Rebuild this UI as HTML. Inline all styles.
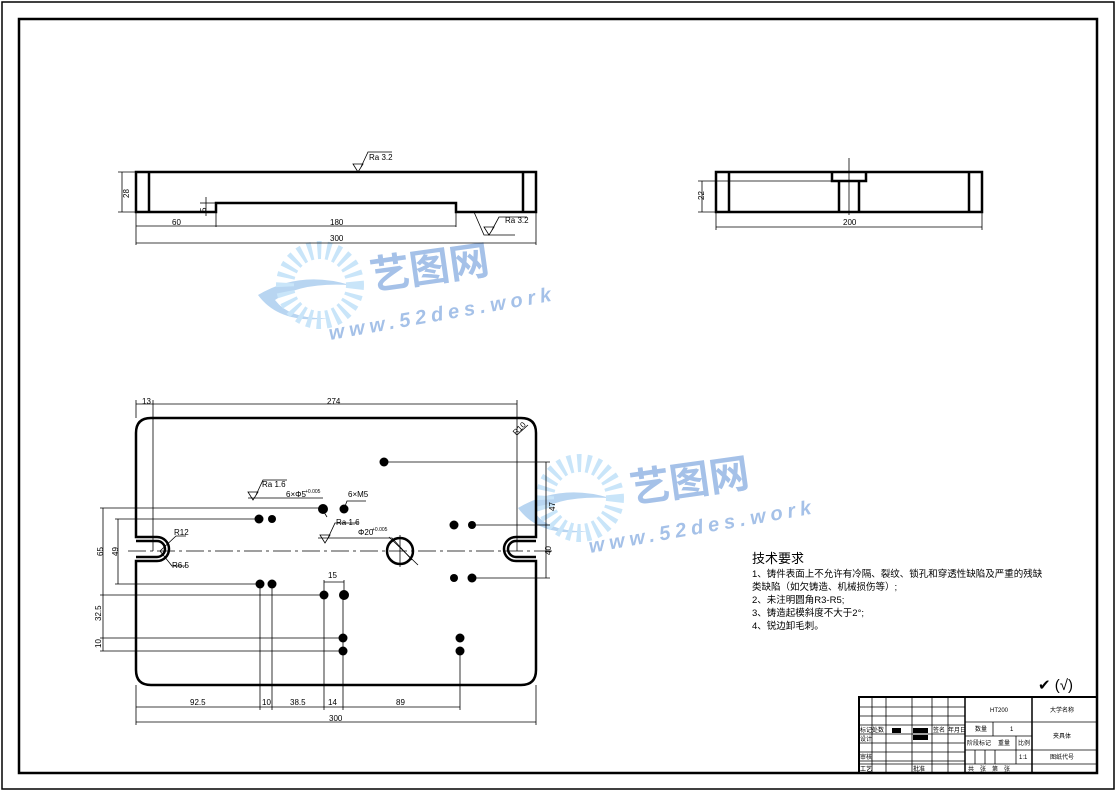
<!DOCTYPE html>
<html><head><meta charset="utf-8"><style>
html,body{margin:0;padding:0;background:#fff;}
svg{display:block;}
text{font-family:"Liberation Sans","Noto Sans CJK SC",sans-serif;fill:#000;}
</style></head><body>
<svg width="1117" height="792" viewBox="0 0 1117 792" xmlns="http://www.w3.org/2000/svg">
<rect x="2" y="2" width="1112" height="787" fill="none" stroke="#000" stroke-width="1.5"/>
<rect x="19" y="19" width="1078" height="754" fill="none" stroke="#000" stroke-width="2.5"/>

<!-- watermark -->
<g opacity="0.55">
 <path d="M258,295 Q300,270 350,285 Q300,282 275,300 Q290,320 330,318 Q280,325 258,295Z" fill="#7fb3e6"/>
 <circle cx="320" cy="285" r="35" fill="none" stroke="#9dd0f5" stroke-width="18" stroke-dasharray="4 5"/>
 <text x="372" y="290" font-size="40" font-weight="bold" fill="#5b8fd6" style="fill:#5b8fd6" transform="rotate(-8 372 290)">艺图网</text>
 <text x="330" y="340" font-size="20" font-weight="bold" font-style="italic" letter-spacing="5" style="fill:#5b8fd6" transform="rotate(-10 330 340)">www.52des.work</text>
 <path d="M518,508 Q560,483 610,498 Q560,495 535,513 Q550,533 590,531 Q540,538 518,508Z" fill="#7fb3e6"/>
 <circle cx="580" cy="498" r="35" fill="none" stroke="#9dd0f5" stroke-width="18" stroke-dasharray="4 5"/>
 <text x="632" y="503" font-size="40" font-weight="bold" style="fill:#5b8fd6" transform="rotate(-8 632 503)">艺图网</text>
 <text x="590" y="553" font-size="20" font-weight="bold" font-style="italic" letter-spacing="5" style="fill:#5b8fd6" transform="rotate(-10 590 553)">www.52des.work</text>
</g>

<!-- front view -->
<g fill="none" stroke="#000" stroke-width="2.5">
 <path d="M136,172 H536 V212 H456 V203 H216 V212 H136 Z"/>
 <line x1="149" y1="172" x2="149" y2="212"/>
 <line x1="523" y1="172" x2="523" y2="212"/>
</g>
<g fill="none" stroke="#000" stroke-width="0.8">
 <line x1="122" y1="172" x2="122" y2="212"/><line x1="118" y1="172" x2="136" y2="172"/><line x1="118" y1="212" x2="136" y2="212"/>
 <line x1="136" y1="212" x2="136" y2="245"/><line x1="536" y1="212" x2="536" y2="245"/><line x1="216" y1="203" x2="216" y2="227"/><line x1="456" y1="212" x2="456" y2="227"/>
 <line x1="136" y1="226" x2="456" y2="226"/><line x1="136" y1="243" x2="536" y2="243"/>
 <line x1="206" y1="197" x2="206" y2="216"/><line x1="200" y1="203" x2="216" y2="203"/>
 <path d="M353,164 L363,164 L358,172 Z M361,167 L368,152 H392"/>
 <path d="M484,227 L494,227 L489,235 Z M474,212 L484,235 H515 M492,230 L499,217 H527"/>
</g>
<g font-size="8">
 <text x="369" y="160">Ra 3.2</text>
 <text x="505" y="223">Ra 3.2</text>
 <text x="118" y="197" transform="rotate(-90 124 192)">28</text>
 <text x="172" y="225">60</text>
 <text x="330" y="225">180</text>
 <text x="330" y="241">300</text>
 <text x="198" y="212" transform="rotate(-90 202 208)">5</text>
</g>

<!-- side view -->
<g fill="none" stroke="#000" stroke-width="2.5">
 <rect x="716" y="172" width="266" height="40"/>
 <line x1="729" y1="172" x2="729" y2="212"/><line x1="969" y1="172" x2="969" y2="212"/>
 <path d="M832,172 V181 H866 V172"/>
 <line x1="839" y1="181" x2="839" y2="212"/><line x1="859" y1="181" x2="859" y2="212"/>
</g>
<g fill="none" stroke="#000" stroke-width="0.8">
 <line x1="849" y1="158" x2="849" y2="215"/>
 <line x1="702" y1="181" x2="702" y2="212"/><line x1="698" y1="181" x2="832" y2="181"/><line x1="698" y1="212" x2="716" y2="212"/>
 <line x1="716" y1="212" x2="716" y2="230"/><line x1="982" y1="212" x2="982" y2="230"/><line x1="716" y1="227" x2="982" y2="227"/>
</g>
<g font-size="8"><text x="843" y="225">200</text><text x="698" y="200" transform="rotate(-90 701 197)">22</text></g>

<!-- plan view -->
<g fill="none" stroke="#000" stroke-width="2.5">
 <path d="M151,418 H521 Q536,418 536,433 V537 H516 A12,12 0 0 0 516,561 H536 V670 Q536,685 521,685 H151 Q136,685 136,670 V561 H157 A12,12 0 0 0 157,537 H136 V433 Q136,418 151,418 Z"/>
 <path d="M136,541 H157 A8,8 0 0 1 157,557 H136"/>
 <path d="M536,541 H516 A8,8 0 0 0 516,557 H536"/>
 <circle cx="400" cy="551" r="13"/>
</g>
<g fill="#000">
 <circle cx="384" cy="462" r="4.5"/>
 <circle cx="259" cy="519" r="4.5"/><circle cx="272" cy="519" r="4"/>
 <circle cx="323" cy="509" r="5"/><circle cx="344" cy="509" r="4.5"/>
 <circle cx="454" cy="525" r="4.5"/><circle cx="472" cy="525" r="4"/>
 <circle cx="454" cy="578" r="4"/><circle cx="472" cy="578" r="4.5"/>
 <circle cx="260" cy="584" r="4.5"/><circle cx="272" cy="584" r="4.5"/>
 <circle cx="324" cy="595" r="4.5"/><circle cx="344" cy="595" r="5"/>
 <circle cx="343" cy="638" r="4.5"/><circle cx="460" cy="638" r="4.5"/>
 <circle cx="343" cy="651" r="4.5"/><circle cx="460" cy="651" r="4.5"/>
</g>
<g fill="none" stroke="#000" stroke-width="0.8">
 <line x1="128" y1="551" x2="555" y2="551" stroke-dasharray="18 4 3 4"/>
 <line x1="400" y1="535" x2="400" y2="567"/>
 <line x1="389" y1="537" x2="418" y2="565"/>
 <line x1="136" y1="400" x2="136" y2="418"/><line x1="153" y1="400" x2="153" y2="551"/><line x1="517" y1="400" x2="517" y2="551"/>
 <line x1="136" y1="404" x2="517" y2="404"/>
 <line x1="517" y1="435" x2="528" y2="425"/>
 <line x1="384" y1="462" x2="550" y2="462"/><line x1="471" y1="525" x2="550" y2="525"/><line x1="471" y1="578" x2="550" y2="578"/>
 <line x1="546" y1="462" x2="546" y2="578"/>
 <line x1="100" y1="508" x2="323" y2="508"/><line x1="115" y1="519" x2="259" y2="519"/><line x1="115" y1="584" x2="259" y2="584"/>
 <line x1="100" y1="595" x2="324" y2="595"/><line x1="100" y1="638" x2="343" y2="638"/><line x1="100" y1="651" x2="343" y2="651"/>
 <line x1="103" y1="508" x2="103" y2="595"/><line x1="118" y1="519" x2="118" y2="584"/><line x1="103" y1="595" x2="103" y2="651"/>
 <line x1="260" y1="584" x2="260" y2="710"/><line x1="272" y1="584" x2="272" y2="710"/><line x1="324" y1="595" x2="324" y2="710"/><line x1="343" y1="595" x2="343" y2="710"/><line x1="460" y1="651" x2="460" y2="710"/>
 <line x1="324" y1="580" x2="324" y2="595"/><line x1="344" y1="580" x2="344" y2="595"/><line x1="324" y1="582" x2="344" y2="582"/>
 <line x1="136" y1="685" x2="136" y2="725"/><line x1="536" y1="685" x2="536" y2="725"/>
 <line x1="136" y1="707" x2="460" y2="707"/><line x1="136" y1="722" x2="536" y2="722"/>
 <path d="M248,492 L258,492 L253,500 Z M256,495 L263,480 H287 M248,498 H323"/>
 <path d="M320,535 L330,535 L325,543 Z M328,538 L335,523 H358 M318,538 H392 L412,560"/>
 <path d="M322,509 L327,517 M344,509 L347,501 H366"/>
 <path d="M160,551 L176,536 H186 M160,551 L172,566 H186"/>
</g>
<g font-size="8">
 <text x="142" y="404">13</text><text x="327" y="404">274</text>
 <text x="512" y="434" transform="rotate(-45 516 430)">R10</text>
 <text x="262" y="487">Ra 1.6</text><text x="286" y="497">6×Φ5</text><text x="305" y="493" font-size="5">+0.005</text>
 <text x="348" y="497">6×M5</text>
 <text x="336" y="525">Ra 1.6</text><text x="358" y="535">Φ20</text><text x="372" y="531" font-size="5">+0.005</text>
 <text x="174" y="535">R12</text><text x="172" y="568">R6.5</text>
 <text x="328" y="578">15</text>
 <text x="95" y="556" transform="rotate(-90 99 552)">65</text>
 <text x="110" y="556" transform="rotate(-90 114 552)">49</text>
 <text x="92" y="620" transform="rotate(-90 97 616)">32.5</text>
 <text x="95" y="648" transform="rotate(-90 98 645)">10</text>
 <text x="543" y="555" transform="rotate(-90 547 551)">40</text>
 <text x="548" y="512" transform="rotate(-90 551 508)">47</text>
 <text x="190" y="705">92.5</text><text x="262" y="705">10</text><text x="290" y="705">38.5</text><text x="328" y="705">14</text><text x="396" y="705">89</text>
 <text x="329" y="721">300</text>
</g>

<!-- tech reqs -->
<g font-family="Liberation Sans,'Noto Sans CJK SC',sans-serif">
 <text x="752" y="563" font-size="13">技术要求</text>
 <text x="752" y="577" font-size="9.5">1、铸件表面上不允许有冷隔、裂纹、锁孔和穿透性缺陷及严重的残缺</text>
 <text x="752" y="590" font-size="9.5">类缺陷（如欠铸造、机械损伤等）;</text>
 <text x="752" y="603" font-size="9.5">2、未注明圆角R3-R5;</text>
 <text x="752" y="616" font-size="9.5">3、铸造起模斜度不大于2°;</text>
 <text x="752" y="629" font-size="9.5">4、锐边卸毛刺。</text>
 <text x="1038" y="690" font-size="15">✔ (√)</text>
</g>

<!-- title block -->
<g fill="none" stroke="#000" stroke-width="0.8">
 <rect x="859" y="697" width="238" height="76" stroke-width="2"/>
 <line x1="859" y1="707" x2="965" y2="707"/><line x1="859" y1="716" x2="965" y2="716"/><line x1="859" y1="725" x2="965" y2="725"/><line x1="859" y1="734" x2="965" y2="734"/>
 <line x1="859" y1="743" x2="965" y2="743"/><line x1="859" y1="752" x2="965" y2="752"/><line x1="859" y1="761" x2="965" y2="761"/><line x1="859" y1="764" x2="1097" y2="764"/>
 <line x1="872" y1="697" x2="872" y2="773"/><line x1="886" y1="697" x2="886" y2="773"/><line x1="912" y1="697" x2="912" y2="773"/><line x1="932" y1="697" x2="932" y2="773"/><line x1="948" y1="697" x2="948" y2="773"/>
 <line x1="965" y1="697" x2="965" y2="773" stroke-width="1.5"/><line x1="1032" y1="697" x2="1032" y2="773" stroke-width="1.5"/>
 <line x1="965" y1="722" x2="1097" y2="722"/><line x1="965" y1="736" x2="1032" y2="736"/><line x1="965" y1="750" x2="1097" y2="750"/>
 <line x1="993" y1="722" x2="993" y2="736"/><line x1="1016" y1="736" x2="1016" y2="764"/>
 <line x1="975" y1="750" x2="975" y2="764"/><line x1="985" y1="750" x2="985" y2="764"/><line x1="995" y1="750" x2="995" y2="764"/>
</g>
<rect x="892" y="728" width="9" height="5"/><rect x="913" y="728" width="15" height="5"/><rect x="913" y="735" width="15" height="5"/>
<g font-size="6">
 <text x="990" y="712">HT200</text><text x="1050" y="712">大学名称</text>
 <text x="975" y="731">数量</text><text x="1010" y="731">1</text><text x="1053" y="738">夹具体</text>
 <text x="967" y="745">阶段标记</text><text x="998" y="745">重量</text><text x="1018" y="745">比例</text>
 <text x="1019" y="759">1:1</text><text x="1050" y="759">图纸代号</text>
 <text x="968" y="771">共　张　第　张</text>
 <text x="860" y="732">标记</text><text x="872" y="732">处数</text><text x="933" y="732">签名</text><text x="948" y="732">年月日</text>
 <text x="860" y="741">设计</text><text x="860" y="759">审核</text><text x="860" y="771">工艺</text><text x="913" y="771">批准</text>
</g>
</svg>
</body></html>
